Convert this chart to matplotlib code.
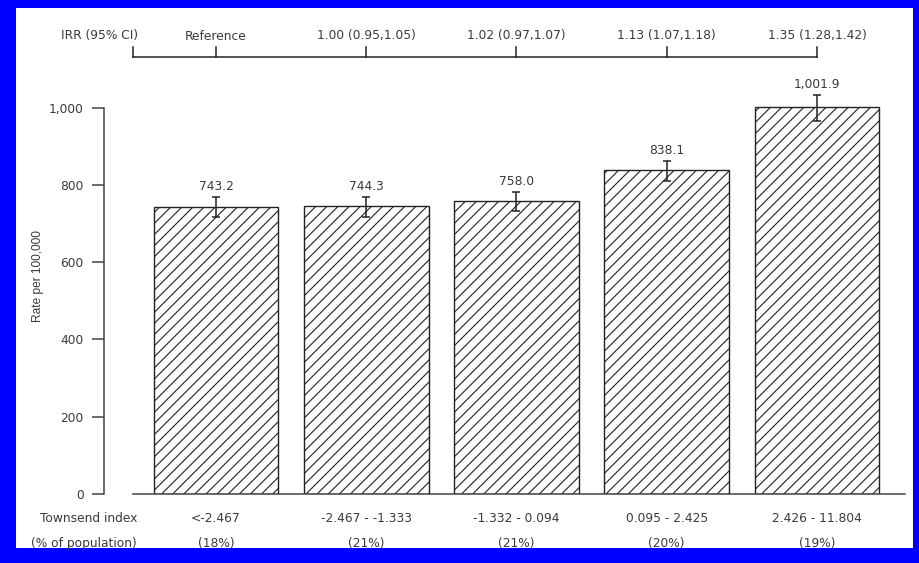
import matplotlib
matplotlib.use("Agg")
import matplotlib.pyplot as plt
import matplotlib.transforms as mtrans
from matplotlib.patches import Rectangle
from matplotlib.ticker import FuncFormatter

# data
townsend = ["<-2.467", "-2.467 - -1.333", "-1.332 - 0.094", "0.095 - 2.425", "2.426 - 11.804"]
pop_share = ["(18%)", "(21%)", "(21%)", "(20%)", "(19%)"]
irr = ["Reference", "1.00 (0.95,1.05)", "1.02 (0.97,1.07)", "1.13 (1.07,1.18)", "1.35 (1.28,1.42)"]
rate = [743.2, 744.3, 758.0, 838.1, 1001.9]
ci_low = [717, 718, 733, 810, 966]
ci_high = [770, 770, 782, 863, 1034]

W, H = 919, 563
txt = "#3a3a3a"
fs = 8.8
plt.rcParams["font.family"] = ["DejaVu Sans"]
plt.rcParams["hatch.linewidth"] = 0.8

fig = plt.figure(figsize=(W / 100, H / 100), dpi=100, facecolor="#0000ff")
# white slide panel
fig.patches.append(Rectangle((16 / W, 1 - 548 / H), (913 - 16) / W, (548 - 8) / H,
                             transform=fig.transFigure, facecolor="white",
                             edgecolor="none", zorder=-5))

ax = fig.add_axes([133 / W, 1 - 494 / H, (905 - 133) / W, (494 - 69) / H])
ax.set_facecolor("none")

x = list(range(len(rate)))
ax.bar(x, rate, width=0.83, color="white", edgecolor="#222222", linewidth=1.0,
       hatch="///", zorder=2)
err = [[r - lo for r, lo in zip(rate, ci_low)], [hi - r for r, hi in zip(rate, ci_high)]]
ax.errorbar(x, rate, yerr=err, fmt="none", ecolor="#222222", elinewidth=1.1,
            capsize=3, capthick=1.1, zorder=3, clip_on=False)
for i, r in enumerate(rate):
    ax.text(i, ci_high[i] + 9, f"{r:,.1f}", ha="center", va="bottom",
            fontsize=fs, color=txt, clip_on=False)

ax.set_xlim(-0.552, 4.586)
ax.set_ylim(0, 1100)
ax.set_yticks([0, 200, 400, 600, 800, 1000])
ax.yaxis.set_major_formatter(FuncFormatter(lambda v, p: f"{v:,.0f}"))
ax.set_xticks([])
for s in ["top", "right"]:
    ax.spines[s].set_visible(False)
ax.spines["left"].set_position(("outward", 21))
ax.spines["left"].set_bounds(0, 1000)
ax.spines["left"].set_color("#444444")
ax.spines["bottom"].set_color("#444444")
ax.spines["left"].set_linewidth(1.1)
ax.spines["bottom"].set_linewidth(1.1)
ax.tick_params(axis="y", length=8.6, width=1.1, color="#444444", pad=6,
               labelsize=fs, labelcolor=txt)

fig.text(38 / W, 1 - 276 / H, "Rate per 100,000", rotation=90, ha="center",
         va="center", fontsize=8.6, color=txt, family="Liberation Sans")

# IRR header with bracket
tr = mtrans.blended_transform_factory(ax.transData, fig.transFigure)
y_line = 1 - 57 / H
y_tick = 1 - 47 / H
y_lab = 1 - 36 / H
ax.plot([-0.552, 4], [y_line, y_line], color="#222222", lw=1.1, transform=tr,
        clip_on=False)
for xi in [-0.552] + x:
    ax.plot([xi, xi], [y_line, y_tick], color="#222222", lw=1.1, transform=tr,
            clip_on=False)
fig.text(138 / W, y_lab, "IRR (95% CI)", ha="right", va="center", fontsize=fs, color=txt)
for i, lab in enumerate(irr):
    ax.text(i, y_lab, lab, transform=tr, ha="center", va="center", fontsize=fs, color=txt)

# category rows under the bars
y_r1 = 1 - 519 / H
y_r2 = 1 - 544 / H
fig.text(137 / W, y_r1, "Townsend index", ha="right", va="center", fontsize=fs, color=txt)
fig.text(137 / W, y_r2, "(% of population)", ha="right", va="center", fontsize=fs, color=txt)
for i in x:
    ax.text(i, y_r1, townsend[i], transform=tr, ha="center", va="center", fontsize=fs, color=txt)
    ax.text(i, y_r2, pop_share[i], transform=tr, ha="center", va="center", fontsize=fs, color=txt)

fig.savefig("out.png", dpi=100, facecolor=fig.get_facecolor())
